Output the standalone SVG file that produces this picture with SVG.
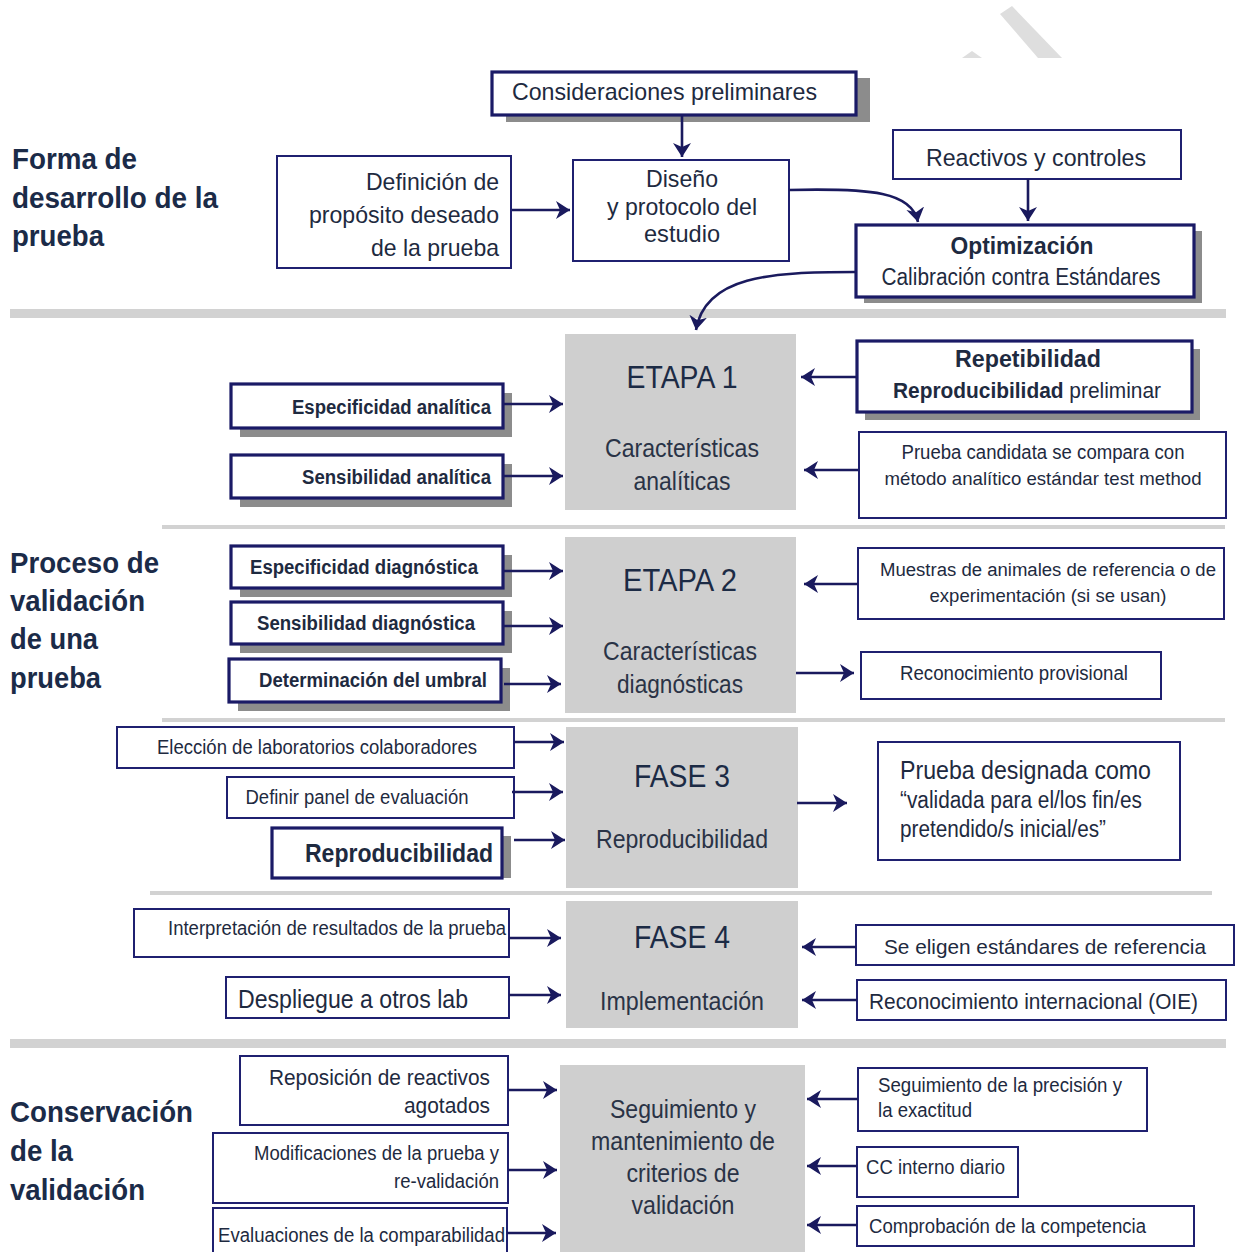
<svg xmlns="http://www.w3.org/2000/svg" width="1235" height="1252" viewBox="0 0 1235 1252">
<style>
  text { font-family: "Liberation Sans Narrow", "Liberation Sans", Arial, sans-serif; fill: #1e2a40; }
  .title { font-size: 30px; font-weight: bold; fill: #1b2b48; }
  .b { fill: #ffffff; stroke: #1f2070; stroke-width: 2; }
  .bt { fill: #ffffff; stroke: #1a1a66; stroke-width: 3.2; }
  .sh { fill: #8c8c8c; }
  .g { fill: #cfcfcf; }
  .sep { fill: #d2d2d2; }
  .bold { font-weight: bold; }
  .c { stroke: #1a1a5e; stroke-width: 2.6; fill: none; marker-end: url(#ah); }
  .stage { font-size: 32px; fill: #1c2b45; }
  .sub { font-size: 25px; fill: #2a3346; }
</style>
<defs>
  <marker id="ah" markerUnits="userSpaceOnUse" markerWidth="16" markerHeight="20" refX="14" refY="9" orient="auto">
    <path d="M0,0 L14,9 L0,18 L4,9 z" fill="#1a1a5e"/>
  </marker>
</defs>
<rect width="1235" height="1252" fill="#ffffff"/>

<!-- watermark fragment -->
<g id="watermark">
  <polygon points="1000,14 1012,6 1062,58 1038,58" fill="#dedede"/>
  <polygon points="962,58 972,51 982,58" fill="#dedede"/>
</g>

<!-- separators -->
<g id="separators">
  <rect class="sep" x="10" y="309" width="1216" height="9"/>
  <rect class="sep" x="162" y="525" width="1063" height="4"/>
  <rect class="sep" x="162" y="718" width="1063" height="4"/>
  <rect class="sep" x="150" y="891" width="1062" height="4"/>
  <rect class="sep" x="10" y="1039" width="1216" height="9"/>
</g>

<!-- section titles -->
<g id="title-forma">
  <text class="title" x="12" y="169" textLength="125" lengthAdjust="spacingAndGlyphs">Forma de</text>
  <text class="title" x="12" y="208" textLength="206" lengthAdjust="spacingAndGlyphs">desarrollo de la</text>
  <text class="title" x="12" y="246" textLength="92" lengthAdjust="spacingAndGlyphs">prueba</text>
</g>
<g id="title-proceso">
  <text class="title" x="10" y="573" textLength="149" lengthAdjust="spacingAndGlyphs">Proceso de</text>
  <text class="title" x="10" y="611" textLength="135" lengthAdjust="spacingAndGlyphs">validación</text>
  <text class="title" x="10" y="649" textLength="88" lengthAdjust="spacingAndGlyphs">de una</text>
  <text class="title" x="10" y="688" textLength="91" lengthAdjust="spacingAndGlyphs">prueba</text>
</g>
<g id="title-conservacion">
  <text class="title" x="10" y="1122" textLength="183" lengthAdjust="spacingAndGlyphs">Conservación</text>
  <text class="title" x="10" y="1161" textLength="63" lengthAdjust="spacingAndGlyphs">de la</text>
  <text class="title" x="10" y="1200" textLength="135" lengthAdjust="spacingAndGlyphs">validación</text>
</g>

<!-- top section -->
<g id="consideraciones">
  <rect class="sh" x="506" y="78" width="364" height="44"/>
  <rect class="bt" x="492" y="72" width="364" height="43"/>
  <text x="512" y="100" font-size="24" textLength="305" lengthAdjust="spacingAndGlyphs">Consideraciones preliminares</text>
</g>
<g id="definicion">
  <rect class="b" x="277" y="156" width="234" height="112"/>
  <text x="499" y="190" font-size="24" text-anchor="end" textLength="133" lengthAdjust="spacingAndGlyphs">Definición de</text>
  <text x="499" y="223" font-size="24" text-anchor="end" textLength="190" lengthAdjust="spacingAndGlyphs">propósito deseado</text>
  <text x="499" y="256" font-size="24" text-anchor="end" textLength="128" lengthAdjust="spacingAndGlyphs">de la prueba</text>
</g>
<g id="diseno">
  <rect class="b" x="573" y="160" width="216" height="101"/>
  <text x="682" y="187" font-size="24" text-anchor="middle" textLength="72" lengthAdjust="spacingAndGlyphs">Diseño</text>
  <text x="682" y="215" font-size="24" text-anchor="middle" textLength="150" lengthAdjust="spacingAndGlyphs">y protocolo del</text>
  <text x="682" y="242" font-size="24" text-anchor="middle" textLength="76" lengthAdjust="spacingAndGlyphs">estudio</text>
</g>
<g id="reactivos">
  <rect class="b" x="893" y="130" width="288" height="49"/>
  <text x="1036" y="166" font-size="24" text-anchor="middle" textLength="220" lengthAdjust="spacingAndGlyphs">Reactivos y controles</text>
</g>
<g id="optimizacion">
  <rect class="sh" x="864" y="231" width="338" height="72"/>
  <rect class="bt" x="856" y="225" width="338" height="72"/>
  <text x="1022" y="254" font-size="24" class="bold" text-anchor="middle" textLength="143" lengthAdjust="spacingAndGlyphs">Optimización</text>
  <text x="1021" y="285" font-size="23" text-anchor="middle" textLength="279" lengthAdjust="spacingAndGlyphs">Calibración contra Estándares</text>
</g>

<!-- ETAPA 1 -->
<g id="etapa1">
  <rect class="g" x="565" y="334" width="231" height="176"/>
  <text class="stage" x="682" y="388" text-anchor="middle" textLength="111" lengthAdjust="spacingAndGlyphs">ETAPA 1</text>
  <text class="sub" x="682" y="457" text-anchor="middle" textLength="154" lengthAdjust="spacingAndGlyphs">Características</text>
  <text class="sub" x="682" y="490" text-anchor="middle" textLength="97" lengthAdjust="spacingAndGlyphs">analíticas</text>
</g>
<g id="esp-analitica">
  <rect class="sh" x="240" y="393" width="272" height="44"/>
  <rect class="bt" x="231" y="384" width="272" height="44"/>
  <text x="491" y="414" font-size="20" class="bold" text-anchor="end" textLength="199" lengthAdjust="spacingAndGlyphs">Especificidad analítica</text>
</g>
<g id="sens-analitica">
  <rect class="sh" x="240" y="464" width="272" height="43"/>
  <rect class="bt" x="231" y="455" width="272" height="43"/>
  <text x="491" y="484" font-size="20" class="bold" text-anchor="end" textLength="189" lengthAdjust="spacingAndGlyphs">Sensibilidad analítica</text>
</g>
<g id="repetibilidad">
  <rect class="sh" x="865" y="349" width="335" height="71"/>
  <rect class="bt" x="857" y="341" width="335" height="71"/>
  <text x="1028" y="367" font-size="24" class="bold" text-anchor="middle" textLength="146" lengthAdjust="spacingAndGlyphs">Repetibilidad</text>
  <text x="893" y="398" font-size="22" textLength="268" lengthAdjust="spacingAndGlyphs"><tspan class="bold">Reproducibilidad</tspan> preliminar</text>
</g>
<g id="prueba-candidata">
  <rect class="b" x="859" y="432" width="367" height="86"/>
  <text x="1043" y="459" font-size="20" text-anchor="middle" textLength="283" lengthAdjust="spacingAndGlyphs">Prueba candidata se compara con</text>
  <text x="1043" y="485" font-size="19" text-anchor="middle" textLength="317" lengthAdjust="spacingAndGlyphs">método analítico estándar test method</text>
</g>

<!-- ETAPA 2 -->
<g id="etapa2">
  <rect class="g" x="565" y="537" width="231" height="176"/>
  <text class="stage" x="680" y="591" text-anchor="middle" textLength="114" lengthAdjust="spacingAndGlyphs">ETAPA 2</text>
  <text class="sub" x="680" y="660" text-anchor="middle" textLength="154" lengthAdjust="spacingAndGlyphs">Características</text>
  <text class="sub" x="680" y="693" text-anchor="middle" textLength="126" lengthAdjust="spacingAndGlyphs">diagnósticas</text>
</g>
<g id="esp-diagnostica">
  <rect class="sh" x="240" y="555" width="272" height="42"/>
  <rect class="bt" x="231" y="546" width="272" height="42"/>
  <text x="364" y="574" font-size="20" class="bold" text-anchor="middle" textLength="228" lengthAdjust="spacingAndGlyphs">Especificidad diagnóstica</text>
</g>
<g id="sens-diagnostica">
  <rect class="sh" x="240" y="611" width="272" height="42"/>
  <rect class="bt" x="231" y="602" width="272" height="42"/>
  <text x="366" y="630" font-size="20" class="bold" text-anchor="middle" textLength="218" lengthAdjust="spacingAndGlyphs">Sensibilidad diagnóstica</text>
</g>
<g id="umbral">
  <rect class="sh" x="238" y="668" width="272" height="43"/>
  <rect class="bt" x="229" y="659" width="272" height="43"/>
  <text x="373" y="687" font-size="20" class="bold" text-anchor="middle" textLength="228" lengthAdjust="spacingAndGlyphs">Determinación del umbral</text>
</g>
<g id="muestras">
  <rect class="b" x="858" y="548" width="366" height="71"/>
  <text x="1048" y="576" font-size="18" text-anchor="middle" textLength="336" lengthAdjust="spacingAndGlyphs">Muestras de animales de referencia o de</text>
  <text x="1048" y="602" font-size="19" text-anchor="middle" textLength="237" lengthAdjust="spacingAndGlyphs">experimentación (si se usan)</text>
</g>
<g id="reconocimiento-provisional">
  <rect class="b" x="861" y="652" width="300" height="47"/>
  <text x="1014" y="680" font-size="20" text-anchor="middle" textLength="228" lengthAdjust="spacingAndGlyphs">Reconocimiento provisional</text>
</g>

<!-- FASE 3 -->
<g id="fase3">
  <rect class="g" x="566" y="727" width="232" height="161"/>
  <text class="stage" x="682" y="787" text-anchor="middle" textLength="96" lengthAdjust="spacingAndGlyphs">FASE 3</text>
  <text class="sub" x="682" y="848" text-anchor="middle" textLength="172" lengthAdjust="spacingAndGlyphs">Reproducibilidad</text>
</g>
<g id="eleccion">
  <rect class="b" x="117" y="727" width="397" height="41"/>
  <text x="317" y="754" font-size="20" text-anchor="middle" textLength="320" lengthAdjust="spacingAndGlyphs">Elección de laboratorios colaboradores</text>
</g>
<g id="definir-panel">
  <rect class="b" x="227" y="777" width="287" height="41"/>
  <text x="357" y="804" font-size="20" text-anchor="middle" textLength="223" lengthAdjust="spacingAndGlyphs">Definir panel de evaluación</text>
</g>
<g id="reproducibilidad">
  <rect class="sh" x="281" y="836" width="230" height="42"/>
  <rect class="bt" x="272" y="828" width="230" height="50"/>
  <text x="493" y="862" font-size="26" class="bold" text-anchor="end" textLength="188" lengthAdjust="spacingAndGlyphs">Reproducibilidad</text>
</g>
<g id="prueba-designada">
  <rect class="b" x="878" y="742" width="302" height="118"/>
  <text x="900" y="779" font-size="25" textLength="251" lengthAdjust="spacingAndGlyphs">Prueba designada como</text>
  <text x="900" y="808" font-size="23" textLength="242" lengthAdjust="spacingAndGlyphs">“validada para el/los fin/es</text>
  <text x="900" y="837" font-size="23" textLength="206" lengthAdjust="spacingAndGlyphs">pretendido/s inicial/es”</text>
</g>

<!-- FASE 4 -->
<g id="fase4">
  <rect class="g" x="566" y="901" width="232" height="127"/>
  <text class="stage" x="682" y="948" text-anchor="middle" textLength="96" lengthAdjust="spacingAndGlyphs">FASE 4</text>
  <text class="sub" x="682" y="1010" text-anchor="middle" textLength="164" lengthAdjust="spacingAndGlyphs">Implementación</text>
</g>
<g id="interpretacion">
  <rect class="b" x="134" y="909" width="375" height="48"/>
  <text x="168" y="935" font-size="20" textLength="338" lengthAdjust="spacingAndGlyphs">Interpretación de resultados de la prueba</text>
</g>
<g id="despliegue">
  <rect class="b" x="226" y="977" width="283" height="41"/>
  <text x="238" y="1008" font-size="26" textLength="230" lengthAdjust="spacingAndGlyphs">Despliegue a otros lab</text>
</g>
<g id="se-eligen">
  <rect class="b" x="856" y="925" width="378" height="40"/>
  <text x="1045" y="954" font-size="21" text-anchor="middle" textLength="322" lengthAdjust="spacingAndGlyphs">Se eligen estándares de referencia</text>
</g>
<g id="reconocimiento-oie">
  <rect class="b" x="857" y="980" width="369" height="40"/>
  <text x="869" y="1009" font-size="22" textLength="329" lengthAdjust="spacingAndGlyphs">Reconocimiento internacional (OIE)</text>
</g>

<!-- Conservacion -->
<g id="seguimiento">
  <rect class="g" x="560" y="1065" width="245" height="187"/>
  <text class="sub" x="683" y="1118" text-anchor="middle" textLength="146" lengthAdjust="spacingAndGlyphs">Seguimiento y</text>
  <text class="sub" x="683" y="1150" text-anchor="middle" textLength="184" lengthAdjust="spacingAndGlyphs">mantenimiento de</text>
  <text class="sub" x="683" y="1182" text-anchor="middle" textLength="113" lengthAdjust="spacingAndGlyphs">criterios de</text>
  <text class="sub" x="683" y="1214" text-anchor="middle" textLength="103" lengthAdjust="spacingAndGlyphs">validación</text>
</g>
<g id="reposicion">
  <rect class="b" x="240" y="1056" width="268" height="69"/>
  <text x="490" y="1085" font-size="22" text-anchor="end" textLength="221" lengthAdjust="spacingAndGlyphs">Reposición de reactivos</text>
  <text x="490" y="1113" font-size="22" text-anchor="end" textLength="86" lengthAdjust="spacingAndGlyphs">agotados</text>
</g>
<g id="modificaciones">
  <rect class="b" x="213" y="1133" width="295" height="70"/>
  <text x="499" y="1160" font-size="20" text-anchor="end" textLength="245" lengthAdjust="spacingAndGlyphs">Modificaciones de la prueba y</text>
  <text x="499" y="1188" font-size="20" text-anchor="end" textLength="105" lengthAdjust="spacingAndGlyphs">re-validación</text>
</g>
<g id="evaluaciones">
  <rect class="b" x="213" y="1208" width="294" height="50"/>
  <text x="218" y="1242" font-size="20" textLength="287" lengthAdjust="spacingAndGlyphs">Evaluaciones de la comparabilidad</text>
</g>
<g id="precision">
  <rect class="b" x="858" y="1068" width="289" height="63"/>
  <text x="878" y="1092" font-size="20" textLength="244" lengthAdjust="spacingAndGlyphs">Seguimiento de la precisión y</text>
  <text x="878" y="1117" font-size="20" textLength="94" lengthAdjust="spacingAndGlyphs">la exactitud</text>
</g>
<g id="cc-interno">
  <rect class="b" x="857" y="1147" width="161" height="50"/>
  <text x="866" y="1174" font-size="20" textLength="139" lengthAdjust="spacingAndGlyphs">CC interno diario</text>
</g>
<g id="comprobacion">
  <rect class="b" x="857" y="1206" width="337" height="40"/>
  <text x="869" y="1233" font-size="20" textLength="277" lengthAdjust="spacingAndGlyphs">Comprobación de la competencia</text>
</g>

<!-- connectors -->
<g id="connectors">
  <line class="c" x1="682" y1="116" x2="682" y2="157"/>
  <line class="c" x1="512" y1="210" x2="570" y2="210"/>
  <line class="c" x1="1028" y1="179" x2="1028" y2="221"/>
  <path class="c" d="M789,190 C872,188 912,192 918,222"/>
  <path class="c" d="M855,272 C770,272 705,276 696,330"/>

  <line class="c" x1="504" y1="404" x2="563" y2="404"/>
  <line class="c" x1="504" y1="476" x2="563" y2="476"/>
  <line class="c" x1="856" y1="377" x2="801" y2="377"/>
  <line class="c" x1="858" y1="470" x2="804" y2="470"/>

  <line class="c" x1="504" y1="571" x2="563" y2="571"/>
  <line class="c" x1="504" y1="626" x2="563" y2="626"/>
  <line class="c" x1="504" y1="684" x2="561" y2="684"/>
  <line class="c" x1="858" y1="584" x2="804" y2="584"/>
  <line class="c" x1="796" y1="673" x2="854" y2="673"/>

  <line class="c" x1="514" y1="742" x2="564" y2="742"/>
  <line class="c" x1="512" y1="792" x2="563" y2="792"/>
  <line class="c" x1="514" y1="840" x2="565" y2="840"/>
  <line class="c" x1="797" y1="803" x2="847" y2="803"/>

  <line class="c" x1="509" y1="938" x2="561" y2="938"/>
  <line class="c" x1="509" y1="995" x2="561" y2="995"/>
  <line class="c" x1="856" y1="947" x2="802" y2="947"/>
  <line class="c" x1="857" y1="1000" x2="802" y2="1000"/>

  <line class="c" x1="508" y1="1090" x2="557" y2="1090"/>
  <line class="c" x1="508" y1="1170" x2="557" y2="1170"/>
  <line class="c" x1="507" y1="1233" x2="556" y2="1233"/>
  <line class="c" x1="858" y1="1099" x2="807" y2="1099"/>
  <line class="c" x1="857" y1="1166" x2="807" y2="1166"/>
  <line class="c" x1="857" y1="1225" x2="807" y2="1225"/>
</g>
</svg>
